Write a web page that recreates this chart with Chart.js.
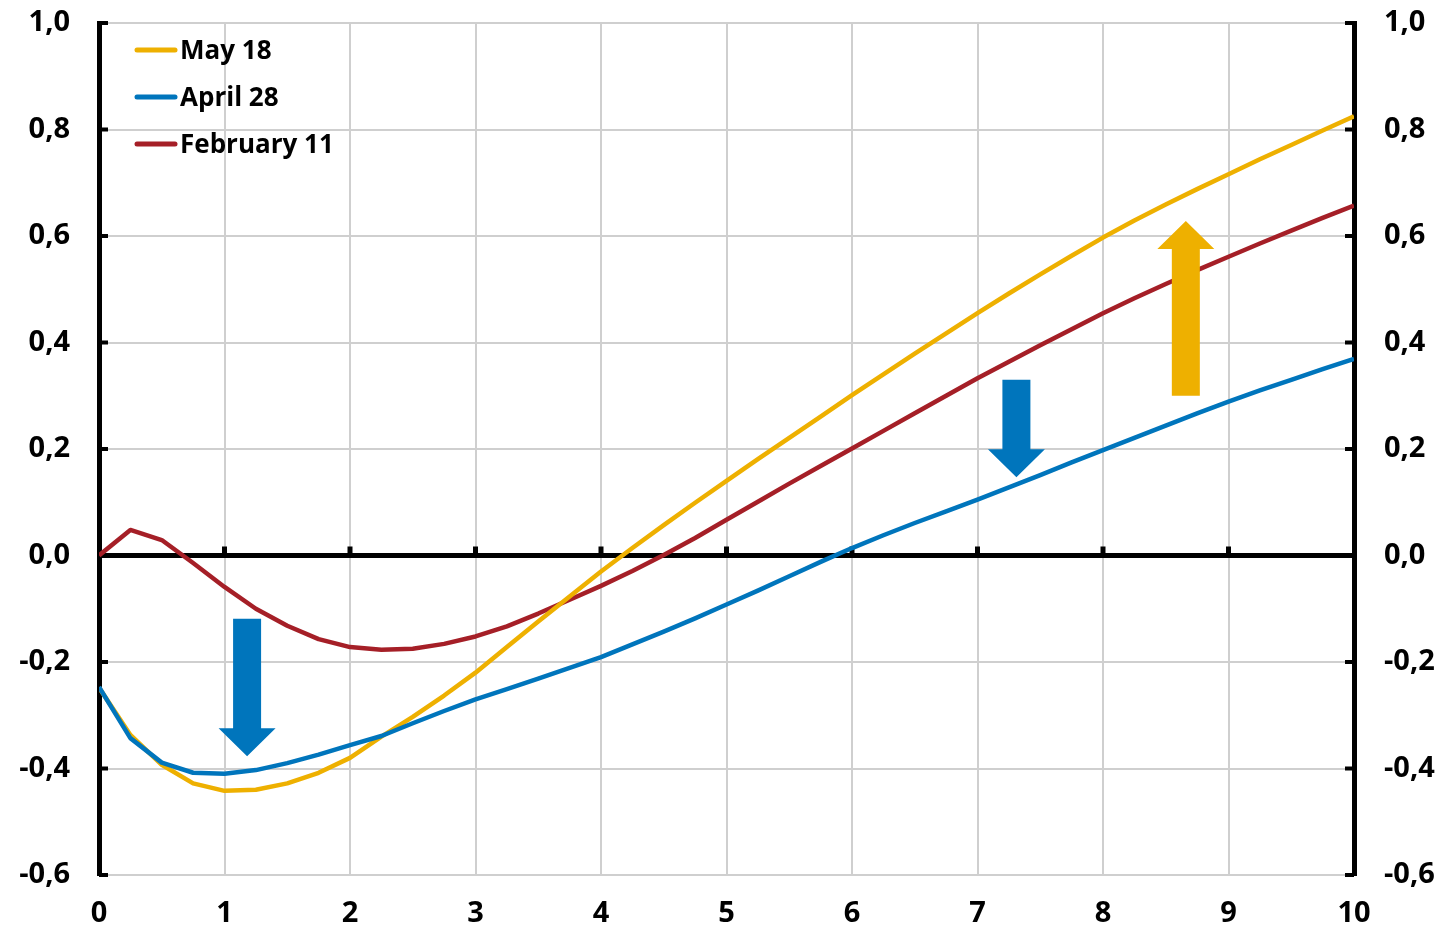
<!DOCTYPE html>
<html>
<head>
<meta charset="utf-8">
<script src="https://cdn.jsdelivr.net/npm/chart.js@4.4.1/dist/chart.umd.min.js"></script>
<style>
  html, body { margin: 0; padding: 0; background: #ffffff; }
  #wrap { width: 1450px; height: 929px; position: relative; }
</style>
</head>
<body>
<div id="wrap"><canvas id="chart"></canvas></div>
<script>
// Horizon (years) of each point on the curves
const horizon = [0, 0.25, 0.5, 0.75, 1, 1.25, 1.5, 1.75, 2, 2.25, 2.5, 2.75,
  3, 3.25, 3.5, 3.75, 4, 4.25, 4.5, 4.75, 5, 5.25, 5.5, 5.75, 6, 6.25, 6.5, 6.75,
  7, 7.25, 7.5, 7.75, 8, 8.25, 8.5, 8.75, 9, 9.25, 9.5, 9.75, 10];

const may18 = [-0.248, -0.337, -0.393, -0.428, -0.442, -0.440, -0.428, -0.408, -0.380, -0.340, -0.303, -0.263,
  -0.220, -0.172, -0.124, -0.077, -0.030, 0.014, 0.057, 0.099, 0.140, 0.181, 0.221, 0.261, 0.301, 0.340, 0.379, 0.417,
  0.455, 0.492, 0.528, 0.563, 0.597, 0.629, 0.659, 0.688, 0.716, 0.744, 0.771, 0.798, 0.825];

const april28 = [-0.247, -0.343, -0.389, -0.408, -0.410, -0.403, -0.390, -0.374, -0.356, -0.339, -0.315, -0.292,
  -0.270, -0.251, -0.231, -0.211, -0.191, -0.167, -0.143, -0.118, -0.092, -0.066, -0.039, -0.012, 0.014, 0.038, 0.061, 0.083,
  0.105, 0.128, 0.151, 0.175, 0.198, 0.221, 0.244, 0.267, 0.289, 0.310, 0.330, 0.350, 0.369];

const february11 = [0.000, 0.048, 0.029, -0.014, -0.059, -0.100, -0.132, -0.157, -0.172, -0.177, -0.175, -0.166,
  -0.152, -0.133, -0.109, -0.083, -0.057, -0.029, 0.001, 0.033, 0.067, 0.101, 0.135, 0.168, 0.201, 0.234, 0.267, 0.300,
  0.333, 0.364, 0.395, 0.425, 0.455, 0.483, 0.510, 0.536, 0.561, 0.586, 0.610, 0.634, 0.657];

const seriesNames = ['May 18', 'April 28', 'February 11'];
const xTicks = [0, 1, 2, 3, 4, 5, 6, 7, 8, 9, 10];
const yTicks = [-0.6, -0.4, -0.2, 0, 0.2, 0.4, 0.6, 0.8, 1.0];

const COLORS = { may: '#EEB000', april: '#0075BC', feb: '#A51F27' };
const FAMILY = '"Open Sans", "DejaVu Sans", sans-serif';
const TICK_FONT = { family: FAMILY, size: 29, weight: 'bold' };
const LEGEND_FONT = { family: FAMILY, size: 26, weight: 'bold' };

// Shift arrows: horizontal position, tail and tip in data units
const arrows = [
  { x: 1.18, from: -0.119, to: -0.377, color: COLORS.april },
  { x: 7.31, from: 0.330, to: 0.147, color: COLORS.april },
  { x: 8.66, from: 0.300, to: 0.628, color: COLORS.may }
];

const toPoints = (vals) => vals.map((v, i) => ({ x: horizon[i], y: v }));
const fmt = (v) => (Math.round(v * 10) / 10).toFixed(1).replace('.', ',').replace('-0,0', '0,0');

// Value axes: fixed width, and a plot that starts 23px below the top edge
const fitValueAxis = (width) => (s) => {
  s.width = width;
  s.paddingTop = 23;
  s.paddingBottom = 0;
};

// Inward tick stubs on the value axes and on the zero line
const axisStubs = {
  id: 'axisStubs',
  beforeDatasetsDraw(chart) {
    const { ctx, chartArea: a, scales: { x, y } } = chart;
    ctx.save();
    ctx.fillStyle = '#000';
    yTicks.forEach((v) => {
      const py = y.getPixelForValue(v);
      ctx.fillRect(a.left, py - 2, 9, 4);
      ctx.fillRect(a.right - 9, py - 2, 9, 4);
    });
    const y0 = y.getPixelForValue(0);
    xTicks.forEach((v) => {
      if (v === 0 || v === 10) return;
      const px = x.getPixelForValue(v);
      ctx.fillRect(px - 2.5, y0 - 9, 5, 9);
    });
    ctx.restore();
  }
};

// Block arrows marking the shift of the curve
const shiftArrows = {
  id: 'shiftArrows',
  afterDatasetsDraw(chart) {
    const { ctx, scales: { x, y } } = chart;
    const shaftHalf = 14, headHalf = 28.5, headLen = 28;
    ctx.save();
    arrows.forEach((ar) => {
      const cx = x.getPixelForValue(ar.x);
      const tail = y.getPixelForValue(ar.from);
      const tip = y.getPixelForValue(ar.to);
      const dir = tip > tail ? 1 : -1;
      const base = tip - dir * headLen;
      ctx.fillStyle = ar.color;
      ctx.beginPath();
      ctx.moveTo(cx - shaftHalf, tail);
      ctx.lineTo(cx + shaftHalf, tail);
      ctx.lineTo(cx + shaftHalf, base);
      ctx.lineTo(cx + headHalf, base);
      ctx.lineTo(cx, tip);
      ctx.lineTo(cx - headHalf, base);
      ctx.lineTo(cx - shaftHalf, base);
      ctx.closePath();
      ctx.fill();
    });
    ctx.restore();
  }
};

// Legend drawn inside the plot, top-left
const insideLegend = {
  id: 'insideLegend',
  afterDraw(chart) {
    const { ctx, chartArea: a } = chart;
    ctx.save();
    ctx.font = `${LEGEND_FONT.weight} ${LEGEND_FONT.size}px ${LEGEND_FONT.family}`;
    ctx.textBaseline = 'middle';
    ctx.textAlign = 'left';
    const legendOrder = [0, 1, 2];
    legendOrder.forEach((di, row) => {
      const ds = chart.data.datasets[di];
      const cy = a.top + 27 + row * 47;
      ctx.strokeStyle = ds.borderColor;
      ctx.lineWidth = 5;
      ctx.lineCap = 'round';
      ctx.beginPath();
      ctx.moveTo(a.left + 38, cy);
      ctx.lineTo(a.left + 76, cy);
      ctx.stroke();
      ctx.fillStyle = '#000';
      ctx.fillText(ds.label, a.left + 81, cy + 2);
    });
    ctx.restore();
  }
};

new Chart(document.getElementById('chart'), {
  type: 'line',
  data: {
    datasets: [
      { label: seriesNames[0], data: toPoints(may18), borderColor: COLORS.may, order: 1 },
      { label: seriesNames[1], data: toPoints(april28), borderColor: COLORS.april, order: 0 },
      { label: seriesNames[2], data: toPoints(february11), borderColor: COLORS.feb, order: 2 }
    ]
  },
  options: {
    responsive: true,
    maintainAspectRatio: false,
    animation: false,
    layout: { padding: 0 },
    elements: {
      line: { borderWidth: 4.5, tension: 0, fill: false, borderJoinStyle: 'round' },
      point: { radius: 0, hoverRadius: 0 }
    },
    plugins: { legend: { display: false }, tooltip: { enabled: false } },
    scales: {
      x: {
        type: 'linear',
        min: 0, max: 10,
        afterBuildTicks: (s) => { s.ticks = xTicks.map((v) => ({ value: v })); },
        afterFit: (s) => { s.height = 54; },
        ticks: { autoSkip: false, maxRotation: 0, padding: 21, color: '#000', font: TICK_FONT,
                 callback: (v) => String(v) },
        grid: { color: '#CFCFCF', lineWidth: 2, drawTicks: false },
        border: { display: false }
      },
      y: {
        type: 'linear',
        position: 'left',
        min: -0.6, max: 1.0,
        afterBuildTicks: (s) => { s.ticks = yTicks.map((v) => ({ value: v })); },
        afterFit: fitValueAxis(99),
        ticks: { padding: 29, color: '#000', font: TICK_FONT, callback: (v) => fmt(v) },
        grid: {
          drawTicks: false,
          color: (c) => (Math.abs(c.tick.value) < 1e-9 ? '#000' : '#CFCFCF'),
          lineWidth: (c) => (Math.abs(c.tick.value) < 1e-9 ? 5 : 2)
        },
        border: { display: true, color: '#000', width: 5 }
      },
      y2: {
        type: 'linear',
        position: 'right',
        min: -0.6, max: 1.0,
        afterBuildTicks: (s) => { s.ticks = yTicks.map((v) => ({ value: v })); },
        afterFit: fitValueAxis(96),
        ticks: { padding: 30, color: '#000', font: TICK_FONT, callback: (v) => fmt(v) },
        grid: { drawOnChartArea: false, drawTicks: false },
        border: { display: true, color: '#000', width: 5 }
      }
    }
  },
  plugins: [axisStubs, shiftArrows, insideLegend]
});
</script>
</body>
</html>
